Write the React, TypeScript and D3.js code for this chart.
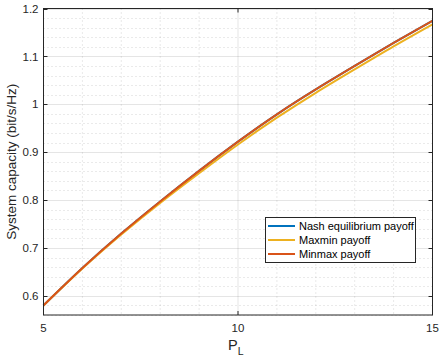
import React from "react";
import * as d3 from "d3";

const pL = [5, 6, 7, 8, 9, 10, 11, 12, 13, 14, 15];
const nashPayoff = [0.580, 0.658, 0.730, 0.797, 0.861, 0.922, 0.979, 1.031, 1.080, 1.128, 1.1745];
const maxminPayoff = [0.580, 0.657, 0.728, 0.794, 0.856, 0.916, 0.972, 1.024, 1.073, 1.121, 1.167];
const minmaxPayoff = [0.580, 0.658, 0.730, 0.797, 0.861, 0.922, 0.979, 1.031, 1.080, 1.128, 1.1745];
const xTicks = [5, 10, 15];
const yTicks = [0.6, 0.7, 0.8, 0.9, 1.0, 1.1, 1.2];
const xMinor = [6, 7, 8, 9, 11, 12, 13, 14];
const yMinor = d3.range(0.56, 1.2001, 0.02);
const seriesNames = ["Nash equilibrium payoff", "Maxmin payoff", "Minmax payoff"];
const seriesColors = ["#0072BD", "#EDB120", "#D95319"];

export default function App() {
  const W = 439, H = 359;
  const left = 43.5, right = 432.5, top = 8.5, bottom = 315;
  const x = d3.scaleLinear().domain([5, 15]).range([left, right]);
  const y = d3.scaleLinear().domain([0.56, 1.2]).range([bottom, top]);
  const series = [nashPayoff, maxminPayoff, minmaxPayoff];
  const line = d3.line<number>().x((_, i) => x(pL[i])).y((d) => y(d)).curve(d3.curveNatural);
  const axisColor = "#262626";
  const font = "'Liberation Sans', Arial, Helvetica, sans-serif";
  const lg = { x0: 265.5, y0: 217.5, w: 150, h: 45 };
  return (
    <svg width={W} height={H} style={{ position: "absolute", left: 0, top: 0, background: "#fff" }} fontFamily={font}>
      <rect x={0} y={0} width={W} height={H} fill="#fff" />
      <rect x={left} y={top} width={right - left} height={bottom - top} fill="#fff" />
      {xMinor.map((v) => (
        <line key={"xm" + v} x1={x(v)} x2={x(v)} y1={top} y2={bottom} stroke={axisColor} strokeOpacity={0.2} strokeDasharray="1,3" strokeWidth={1} />
      ))}
      {yMinor.filter((v) => Math.abs(Math.round(v * 10) / 10 - v) > 0.005).map((v, i) => (
        <line key={"ym" + i} x1={left} x2={right} y1={Math.round(y(v)) + 0.5} y2={Math.round(y(v)) + 0.5} stroke={axisColor} strokeOpacity={0.2} strokeDasharray="1,3" strokeWidth={1} />
      ))}
      {xTicks.map((v) => (
        <line key={"xg" + v} x1={x(v)} x2={x(v)} y1={top} y2={bottom} stroke={axisColor} strokeOpacity={0.12} strokeWidth={1} />
      ))}
      {yTicks.map((v) => (
        <line key={"yg" + v} x1={left} x2={right} y1={Math.round(y(v)) + 0.5} y2={Math.round(y(v)) + 0.5} stroke={axisColor} strokeOpacity={0.12} strokeWidth={1} />
      ))}
      {series.map((s, i) => (
        <path key={"s" + i} d={line(s) || ""} fill="none" stroke={seriesColors[i]} strokeWidth={2} />
      ))}
      <rect x={left} y={top} width={right - left} height={bottom - top} fill="none" stroke={axisColor} strokeWidth={1} />
      {xTicks.map((v) => (
        <g key={"xt" + v}>
          <line x1={x(v)} x2={x(v)} y1={bottom} y2={bottom - 4} stroke={axisColor} />
          <line x1={x(v)} x2={x(v)} y1={top} y2={top + 4} stroke={axisColor} />
          <text x={x(v)} y={331.5} textAnchor="middle" fontSize={11.5} fill={axisColor}>{v}</text>
        </g>
      ))}
      {yTicks.map((v) => (
        <g key={"yt" + v}>
          <line x1={left} x2={left + 4} y1={Math.round(y(v)) + 0.5} y2={Math.round(y(v)) + 0.5} stroke={axisColor} />
          <line x1={right} x2={right - 4} y1={Math.round(y(v)) + 0.5} y2={Math.round(y(v)) + 0.5} stroke={axisColor} />
          <text x={38.5} y={y(v) + 4.2} textAnchor="end" fontSize={11.5} fill={axisColor}>{d3.format("")(+v.toFixed(1))}</text>
        </g>
      ))}
      <text x={228} y={349.5} fontSize={14.5} fill={axisColor}>P<tspan fontSize={10.5} dy={5}>L</tspan></text>
      <text transform={`translate(15.5, ${(top + bottom) / 2}) rotate(-90)`} textAnchor="middle" fontSize={13.5} fill={axisColor}>System capacity (bit/s/Hz)</text>
      <rect x={lg.x0} y={lg.y0} width={lg.w} height={lg.h} fill="#fff" stroke={axisColor} strokeWidth={1} />
      {seriesNames.map((n, i) => (
        <g key={"lg" + i}>
          <line x1={268} x2={295} y1={226 + i * 14} y2={226 + i * 14} stroke={seriesColors[i]} strokeWidth={2} />
          <text x={299} y={226 + i * 14 + 4} fontSize={11} fill="#000">{n}</text>
        </g>
      ))}
    </svg>
  );
}
